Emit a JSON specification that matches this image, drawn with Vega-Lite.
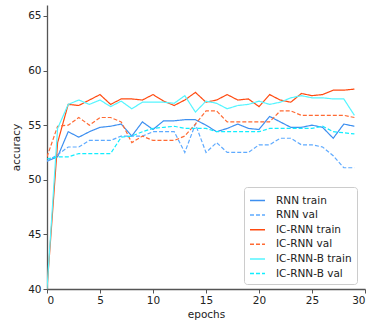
{
  "$schema": "https://vega.github.io/schema/vega-lite/v6.json",
  "width": 318,
  "height": 284,
  "autosize": {"type": "none"},
  "padding": {"left": 47, "top": 5, "right": 9, "bottom": 35},
  "config": {
    "view": {"stroke": null},
    "font": "DejaVu Sans",
    "axis": {"grid": false, "domainColor": "#555", "domainWidth": 1.3, "tickColor": "#555", "tickSize": 4, "labelFontSize": 10.5, "labelColor": "#222", "titleFontSize": 10.5, "titleFontWeight": "normal", "titleColor": "#222", "labelFont": "DejaVu Sans", "titleFont": "DejaVu Sans"}
  },
  "data": {"values": [
    {"e":0,"s":"RNN train","a":51.7},{"e":1,"s":"RNN train","a":52.1},{"e":2,"s":"RNN train","a":54.4},{"e":3,"s":"RNN train","a":53.9},{"e":4,"s":"RNN train","a":54.4},{"e":5,"s":"RNN train","a":54.8},{"e":6,"s":"RNN train","a":54.9},{"e":7,"s":"RNN train","a":55.1},{"e":8,"s":"RNN train","a":54.0},{"e":9,"s":"RNN train","a":55.3},{"e":10,"s":"RNN train","a":54.6},{"e":11,"s":"RNN train","a":55.4},{"e":12,"s":"RNN train","a":55.4},{"e":13,"s":"RNN train","a":55.5},{"e":14,"s":"RNN train","a":55.5},{"e":15,"s":"RNN train","a":55.0},{"e":16,"s":"RNN train","a":54.4},{"e":17,"s":"RNN train","a":54.7},{"e":18,"s":"RNN train","a":55.1},{"e":19,"s":"RNN train","a":54.7},{"e":20,"s":"RNN train","a":54.6},{"e":21,"s":"RNN train","a":55.8},{"e":22,"s":"RNN train","a":55.3},{"e":23,"s":"RNN train","a":54.8},{"e":24,"s":"RNN train","a":54.8},{"e":25,"s":"RNN train","a":55.0},{"e":26,"s":"RNN train","a":54.8},{"e":27,"s":"RNN train","a":53.8},{"e":28,"s":"RNN train","a":55.1},{"e":29,"s":"RNN train","a":54.9},
    {"e":0,"s":"RNN val","a":51.7},{"e":1,"s":"RNN val","a":52.3},{"e":2,"s":"RNN val","a":53.0},{"e":3,"s":"RNN val","a":53.0},{"e":4,"s":"RNN val","a":53.6},{"e":5,"s":"RNN val","a":53.6},{"e":6,"s":"RNN val","a":53.6},{"e":7,"s":"RNN val","a":54.0},{"e":8,"s":"RNN val","a":54.0},{"e":9,"s":"RNN val","a":54.0},{"e":10,"s":"RNN val","a":54.4},{"e":11,"s":"RNN val","a":54.4},{"e":12,"s":"RNN val","a":54.4},{"e":13,"s":"RNN val","a":52.5},{"e":14,"s":"RNN val","a":55.1},{"e":15,"s":"RNN val","a":52.5},{"e":16,"s":"RNN val","a":53.4},{"e":17,"s":"RNN val","a":52.5},{"e":18,"s":"RNN val","a":52.5},{"e":19,"s":"RNN val","a":52.5},{"e":20,"s":"RNN val","a":53.2},{"e":21,"s":"RNN val","a":53.2},{"e":22,"s":"RNN val","a":53.8},{"e":23,"s":"RNN val","a":53.8},{"e":24,"s":"RNN val","a":53.2},{"e":25,"s":"RNN val","a":53.2},{"e":26,"s":"RNN val","a":53.0},{"e":27,"s":"RNN val","a":52.2},{"e":28,"s":"RNN val","a":51.1},{"e":29,"s":"RNN val","a":51.1},
    {"e":0,"s":"IC-RNN train","a":40.0},{"e":1,"s":"IC-RNN train","a":53.4},{"e":2,"s":"IC-RNN train","a":56.9},{"e":3,"s":"IC-RNN train","a":56.8},{"e":4,"s":"IC-RNN train","a":57.3},{"e":5,"s":"IC-RNN train","a":57.8},{"e":6,"s":"IC-RNN train","a":56.9},{"e":7,"s":"IC-RNN train","a":57.4},{"e":8,"s":"IC-RNN train","a":57.4},{"e":9,"s":"IC-RNN train","a":57.3},{"e":10,"s":"IC-RNN train","a":57.8},{"e":11,"s":"IC-RNN train","a":57.2},{"e":12,"s":"IC-RNN train","a":56.8},{"e":13,"s":"IC-RNN train","a":57.3},{"e":14,"s":"IC-RNN train","a":58.0},{"e":15,"s":"IC-RNN train","a":57.1},{"e":16,"s":"IC-RNN train","a":57.3},{"e":17,"s":"IC-RNN train","a":57.8},{"e":18,"s":"IC-RNN train","a":57.3},{"e":19,"s":"IC-RNN train","a":57.4},{"e":20,"s":"IC-RNN train","a":56.7},{"e":21,"s":"IC-RNN train","a":57.8},{"e":22,"s":"IC-RNN train","a":57.3},{"e":23,"s":"IC-RNN train","a":57.1},{"e":24,"s":"IC-RNN train","a":57.9},{"e":25,"s":"IC-RNN train","a":57.7},{"e":26,"s":"IC-RNN train","a":57.8},{"e":27,"s":"IC-RNN train","a":58.2},{"e":28,"s":"IC-RNN train","a":58.2},{"e":29,"s":"IC-RNN train","a":58.3},
    {"e":0,"s":"IC-RNN val","a":52.1},{"e":1,"s":"IC-RNN val","a":54.9},{"e":2,"s":"IC-RNN val","a":55.0},{"e":3,"s":"IC-RNN val","a":55.7},{"e":4,"s":"IC-RNN val","a":55.0},{"e":5,"s":"IC-RNN val","a":55.7},{"e":6,"s":"IC-RNN val","a":55.7},{"e":7,"s":"IC-RNN val","a":55.3},{"e":8,"s":"IC-RNN val","a":53.4},{"e":9,"s":"IC-RNN val","a":54.0},{"e":10,"s":"IC-RNN val","a":53.6},{"e":11,"s":"IC-RNN val","a":53.6},{"e":12,"s":"IC-RNN val","a":53.6},{"e":13,"s":"IC-RNN val","a":54.0},{"e":14,"s":"IC-RNN val","a":55.1},{"e":15,"s":"IC-RNN val","a":56.3},{"e":16,"s":"IC-RNN val","a":56.3},{"e":17,"s":"IC-RNN val","a":55.3},{"e":18,"s":"IC-RNN val","a":55.3},{"e":19,"s":"IC-RNN val","a":55.3},{"e":20,"s":"IC-RNN val","a":55.3},{"e":21,"s":"IC-RNN val","a":55.3},{"e":22,"s":"IC-RNN val","a":56.3},{"e":23,"s":"IC-RNN val","a":56.3},{"e":24,"s":"IC-RNN val","a":55.9},{"e":25,"s":"IC-RNN val","a":55.9},{"e":26,"s":"IC-RNN val","a":55.9},{"e":27,"s":"IC-RNN val","a":55.9},{"e":28,"s":"IC-RNN val","a":55.9},{"e":29,"s":"IC-RNN val","a":55.7},
    {"e":0,"s":"IC-RNN-B train","a":40.0},{"e":1,"s":"IC-RNN-B train","a":54.7},{"e":2,"s":"IC-RNN-B train","a":56.9},{"e":3,"s":"IC-RNN-B train","a":57.3},{"e":4,"s":"IC-RNN-B train","a":56.9},{"e":5,"s":"IC-RNN-B train","a":57.3},{"e":6,"s":"IC-RNN-B train","a":56.7},{"e":7,"s":"IC-RNN-B train","a":57.2},{"e":8,"s":"IC-RNN-B train","a":56.5},{"e":9,"s":"IC-RNN-B train","a":57.1},{"e":10,"s":"IC-RNN-B train","a":57.1},{"e":11,"s":"IC-RNN-B train","a":57.1},{"e":12,"s":"IC-RNN-B train","a":57.0},{"e":13,"s":"IC-RNN-B train","a":57.7},{"e":14,"s":"IC-RNN-B train","a":56.2},{"e":15,"s":"IC-RNN-B train","a":57.2},{"e":16,"s":"IC-RNN-B train","a":57.0},{"e":17,"s":"IC-RNN-B train","a":56.5},{"e":18,"s":"IC-RNN-B train","a":56.8},{"e":19,"s":"IC-RNN-B train","a":56.9},{"e":20,"s":"IC-RNN-B train","a":57.2},{"e":21,"s":"IC-RNN-B train","a":56.9},{"e":22,"s":"IC-RNN-B train","a":57.1},{"e":23,"s":"IC-RNN-B train","a":57.5},{"e":24,"s":"IC-RNN-B train","a":57.7},{"e":25,"s":"IC-RNN-B train","a":57.5},{"e":26,"s":"IC-RNN-B train","a":57.5},{"e":27,"s":"IC-RNN-B train","a":57.4},{"e":28,"s":"IC-RNN-B train","a":57.4},{"e":29,"s":"IC-RNN-B train","a":55.9},
    {"e":0,"s":"IC-RNN-B val","a":51.9},{"e":1,"s":"IC-RNN-B val","a":52.1},{"e":2,"s":"IC-RNN-B val","a":52.1},{"e":3,"s":"IC-RNN-B val","a":52.4},{"e":4,"s":"IC-RNN-B val","a":52.4},{"e":5,"s":"IC-RNN-B val","a":52.4},{"e":6,"s":"IC-RNN-B val","a":52.4},{"e":7,"s":"IC-RNN-B val","a":53.9},{"e":8,"s":"IC-RNN-B val","a":54.0},{"e":9,"s":"IC-RNN-B val","a":54.4},{"e":10,"s":"IC-RNN-B val","a":54.7},{"e":11,"s":"IC-RNN-B val","a":54.8},{"e":12,"s":"IC-RNN-B val","a":54.9},{"e":13,"s":"IC-RNN-B val","a":54.7},{"e":14,"s":"IC-RNN-B val","a":54.7},{"e":15,"s":"IC-RNN-B val","a":54.7},{"e":16,"s":"IC-RNN-B val","a":54.4},{"e":17,"s":"IC-RNN-B val","a":54.4},{"e":18,"s":"IC-RNN-B val","a":54.4},{"e":19,"s":"IC-RNN-B val","a":54.4},{"e":20,"s":"IC-RNN-B val","a":54.4},{"e":21,"s":"IC-RNN-B val","a":54.7},{"e":22,"s":"IC-RNN-B val","a":54.7},{"e":23,"s":"IC-RNN-B val","a":54.7},{"e":24,"s":"IC-RNN-B val","a":54.7},{"e":25,"s":"IC-RNN-B val","a":54.7},{"e":26,"s":"IC-RNN-B val","a":54.9},{"e":27,"s":"IC-RNN-B val","a":54.4},{"e":28,"s":"IC-RNN-B val","a":54.3},{"e":29,"s":"IC-RNN-B val","a":54.2}
  ]},
  "mark": {"type": "line", "strokeWidth": 1.2, "clip": true},
  "encoding": {
    "x": {"field": "e", "type": "quantitative", "scale": {"domain": [0, 30], "nice": false}, "axis": {"values": [0,5,10,15,20,25,30], "title": "epochs", "titlePadding": 4}},
    "y": {"field": "a", "type": "quantitative", "scale": {"domain": [40, 66], "nice": false, "zero": false}, "axis": {"values": [40,45,50,55,60,65], "title": "accuracy", "titlePadding": 6}},
    "color": {
      "field": "s", "type": "nominal",
      "scale": {"domain": ["RNN train","RNN val","IC-RNN train","IC-RNN val","IC-RNN-B train","IC-RNN-B val"], "range": ["#3d8ff0","#5eaaff","#ff4a10","#ff6a33","#55f5ff","#11eeff"]},
      "legend": {"orient": "none", "legendX": 197, "legendY": 182, "title": null, "symbolType": "stroke", "symbolSize": 225, "symbolStrokeWidth": 1.5, "labelFontSize": 10.5, "labelColor": "#222", "labelFont": "DejaVu Sans", "fillColor": "white", "strokeColor": "#ccc", "cornerRadius": 3, "padding": 5, "rowPadding": 0.6, "labelOffset": 10}
    },
    "strokeDash": {
      "field": "s", "type": "nominal",
      "scale": {"domain": ["RNN train","RNN val","IC-RNN train","IC-RNN val","IC-RNN-B train","IC-RNN-B val"], "range": [[1,0],[4,2],[1,0],[4,2],[1,0],[4,2]]}
    }
  }
}
